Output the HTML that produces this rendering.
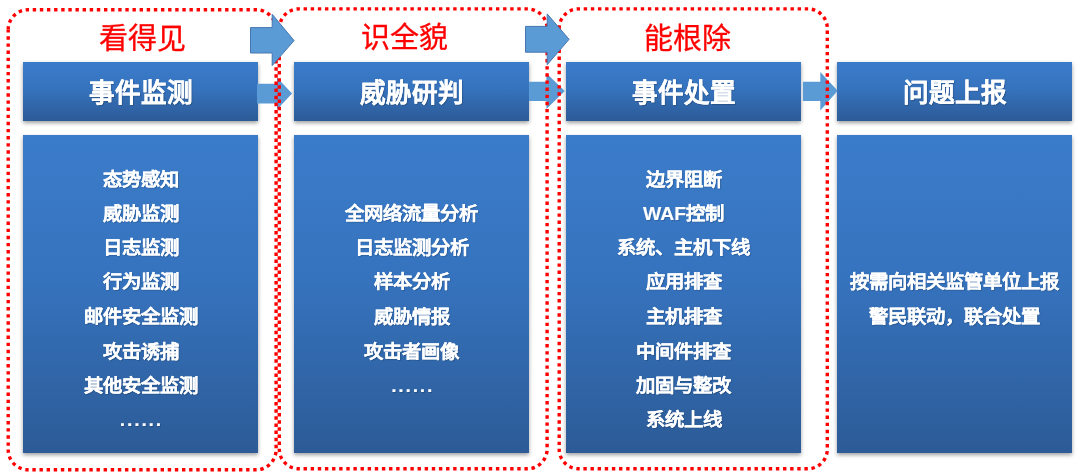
<!DOCTYPE html>
<html lang="zh-CN"><head><meta charset="utf-8">
<style>
html,body{margin:0;padding:0;background:#fff;width:1080px;height:474px;overflow:hidden;position:relative;font-family:"Liberation Sans",sans-serif;}
.hd,.ct{position:absolute;background:linear-gradient(#3b7cca 0%,#3673be 45%,#2c5b97 100%);box-shadow:0 2px 4px rgba(0,0,0,.38);color:#fff;font-weight:bold;}
.hd{top:62.3px;height:59.2px;width:235px;}
.ct{top:135.3px;height:317.6px;width:235px;}
.hd span{position:absolute;left:0;right:0;top:15.8px;text-align:center;font-size:25.6px;-webkit-text-stroke:0.15px #fff;line-height:30px;text-shadow:1px 1px 1px rgba(0,0,0,.22);}
.ct div{position:absolute;left:0;right:0;text-align:center;font-size:19.4px;line-height:22px;transform:translateY(.5px) scaleY(.92);-webkit-text-stroke:0.12px #fff;text-shadow:1px 1px 1px rgba(0,0,0,.2);}
.ti{position:absolute;top:22px;width:235px;text-align:center;color:#ff0000;font-size:29px;line-height:34px;-webkit-text-stroke:0.3px #ff0000;}
svg{position:absolute;left:0;top:0;}
#wrap{position:absolute;left:0;top:0;width:1080px;height:474px;filter:blur(0.4px);}
</style></head><body><div id="wrap">
<svg width="1080" height="474" style="z-index:1">
<polygon points="257,83.8 277,83.8 277,77.6 292.1,93.5 277,109.4 277,103.6 257,103.6" fill="#5b9bd5"/>
<polygon points="529,81.8 546.4,81.8 546.4,73.2 564.8,91.1 546.4,109 546.4,101.1 529,101.1" fill="#5b9bd5"/>
<polygon points="802.9,81.8 820.3,81.8 820.3,71.9 837.7,90.8 820.3,110.6 820.3,101.1 802.9,101.1" fill="#5b9bd5"/>
</svg>
<div class="ti" style="left:24.5px">看得见</div>
<div class="ti" style="left:286.5px;top:20.5px">识全貌</div>
<div class="ti" style="left:570px">能根除</div>

<div class="hd" style="left:23px"><span>事件监测</span></div>
<div class="hd" style="left:294.3px"><span>威胁研判</span></div>
<div class="hd" style="left:566px"><span>事件处置</span></div>
<div class="hd" style="left:837.3px"><span>问题上报</span></div>

<div class="ct" style="left:23px">
<div style="top:33px">态势感知</div>
<div style="top:67px">威胁监测</div>
<div style="top:101px">日志监测</div>
<div style="top:135px">行为监测</div>
<div style="top:170px">邮件安全监测</div>
<div style="top:205px">攻击诱捕</div>
<div style="top:239px">其他安全监测</div>
<div style="top:273px;letter-spacing:1.8px;text-indent:1.8px">......</div>
</div>
<div class="ct" style="left:294.3px">
<div style="top:67px">全网络流量分析</div>
<div style="top:101px">日志监测分析</div>
<div style="top:135px">样本分析</div>
<div style="top:170px">威胁情报</div>
<div style="top:205px">攻击者画像</div>
<div style="top:239px;letter-spacing:1.8px;text-indent:1.8px">......</div>
</div>
<div class="ct" style="left:566px">
<div style="top:33px">边界阻断</div>
<div style="top:67px">WAF控制</div>
<div style="top:101px">系统、主机下线</div>
<div style="top:135px">应用排查</div>
<div style="top:170px">主机排查</div>
<div style="top:205px">中间件排查</div>
<div style="top:239px">加固与整改</div>
<div style="top:273px">系统上线</div>
</div>
<div class="ct" style="left:837.3px">
<div style="top:135px">按需向相关监管单位上报</div>
<div style="top:170px">警民联动，联合处置</div>
</div>

<svg width="1080" height="474" style="z-index:2">
<g fill="none" stroke="#ff0000" stroke-width="3.4">
<path d="M8.2,29.7 L8.2,449.8 A20.0,20.0 0 0 0 28.2,469.8 L256.1,469.8 A20.0,20.0 0 0 0 276.1,449.8 L276.1,29.7 A20.0,20.0 0 0 0 256.1,9.7 L28.2,9.7 A20.0,20.0 0 0 0 8.2,29.7 Z" stroke-dasharray="3.4 3.725" stroke-dashoffset="0.527"/>
<path d="M279.3,28.61 L279.3,449.05 A19.75,19.75 0 0 0 299.05,468.8 L527.35,468.8 A19.75,19.75 0 0 0 547.1,449.05 L547.1,28.61 A19.75,19.75 0 0 0 527.35,8.86 L299.05,8.86 A19.75,19.75 0 0 0 279.3,28.61 Z" stroke-dasharray="3.4 3.725" stroke-dashoffset="0.242"/>
<path d="M559.2,28.36 L559.2,449.3 A19.5,19.5 0 0 0 578.7,468.8 L807.8,468.8 A19.5,19.5 0 0 0 827.3,449.3 L827.3,28.36 A19.5,19.5 0 0 0 807.8,8.86 L578.7,8.86 A19.5,19.5 0 0 0 559.2,28.36 Z" stroke-dasharray="3.4 3.73" stroke-dashoffset="0.268"/>
</g>
</svg>
<svg width="1080" height="474" style="z-index:3">
<polygon points="250.5,27.6 272.2,27.6 272.2,14.3 294.1,40.6 272.2,65.6 272.2,53 250.5,53" fill="#5b9bd5" stroke="#4676b0" stroke-width="1" stroke-linejoin="miter"/>
<polygon points="525.5,26.4 547.2,26.4 547.2,13.9 569.1,39.3 547.2,64.7 547.2,52.2 525.5,52.2" fill="#5b9bd5" stroke="#4676b0" stroke-width="1" stroke-linejoin="miter"/>
</svg>
</div></body></html>
